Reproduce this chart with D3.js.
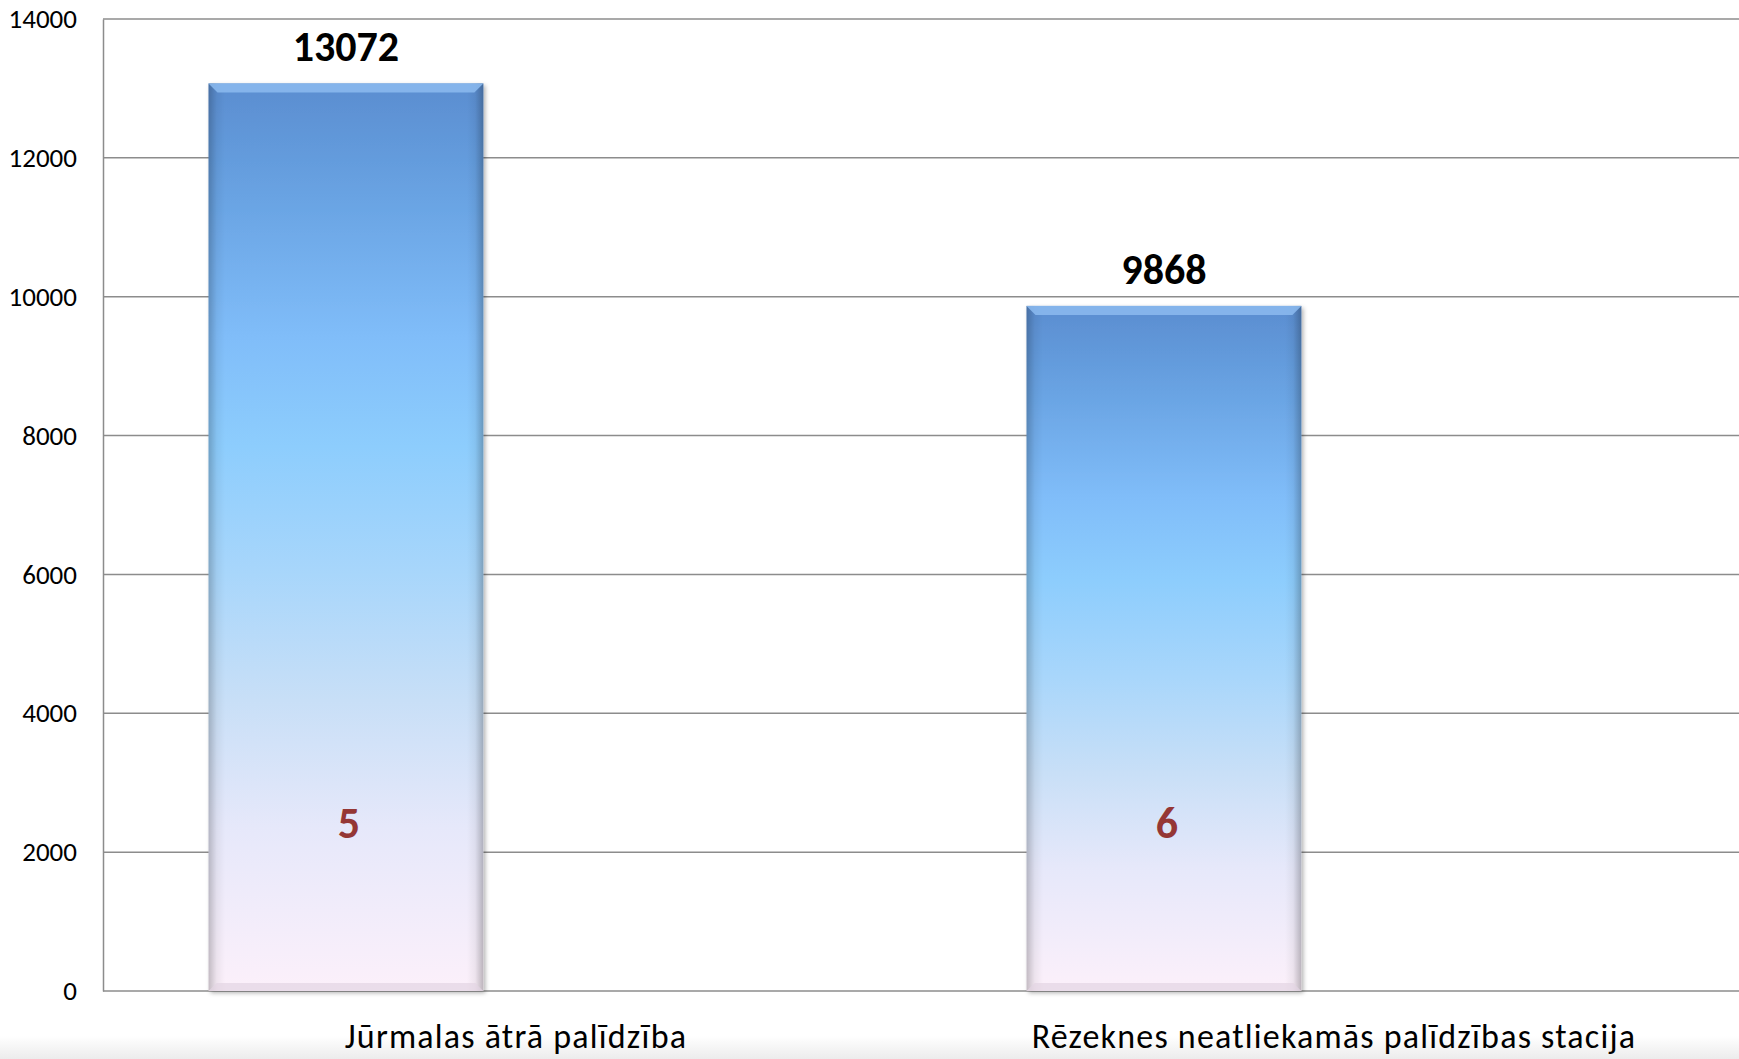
<!DOCTYPE html>
<html>
<head>
<meta charset="utf-8">
<script src="https://cdn.jsdelivr.net/npm/d3@7"></script>
<style>
  body { margin: 0; background: #fff; }
  svg { display: block; font-family: Carlito, Lato, "Open Sans", sans-serif; }
</style>
</head>
<body>
<div class="svg-container"></div>
<script>
// data
const categories = ['Jūrmalas ātrā palīdzība', 'Rēzeknes neatliekamās palīdzības stacija'];
const values = [13072, 9868];
const innerLabels = [5, 6];
const innerLabelLevel = 2200;
const yTicks = [0, 2000, 4000, 6000, 8000, 10000, 12000, 14000];

// sizes
const W = 1739, H = 1059;
const margin = { top: 19, right: 0, bottom: 68, left: 103 };
const width = W - margin.left - margin.right;
const height = H - margin.top - margin.bottom;

const svg = d3.select('.svg-container')
    .append('svg')
    .attr('width', W)
    .attr('height', H);

const defs = svg.append('defs');

// bar fill, dark blue top to pinkish white bottom
const grad = defs.append('linearGradient')
    .attr('id', 'barFill')
    .attr('x1', 0).attr('y1', 0).attr('x2', 0).attr('y2', 1);
[
    [0, '#5a8dd0'], [0.12, '#68a2e2'], [0.28, '#80bdf9'], [0.4, '#8dcdfd'],
    [0.54, '#a8d6fb'], [0.68, '#c8dff7'], [0.82, '#e6e8fa'], [1, '#fcf0fa']
].forEach(s => grad.append('stop').attr('offset', s[0]).attr('stop-color', s[1]));

// side shading for bevel look
const side = defs.append('linearGradient')
    .attr('id', 'sideShade')
    .attr('x1', 0).attr('y1', 0).attr('x2', 1).attr('y2', 0);
[
    [0, 'rgba(0,0,0,0.22)'], [0.03, 'rgba(0,0,0,0.05)'], [0.06, 'rgba(0,0,0,0)'],
    [0.94, 'rgba(0,0,0,0)'], [0.97, 'rgba(0,0,0,0.05)'], [1, 'rgba(0,0,0,0.25)']
].forEach(s => side.append('stop').attr('offset', s[0]).attr('stop-color', s[1]));

const shadow = defs.append('filter').attr('id', 'shadow')
    .attr('x', '-5%').attr('y', '-5%').attr('width', '115%').attr('height', '110%');
shadow.append('feDropShadow')
    .attr('dx', 2).attr('dy', 2).attr('stdDeviation', 2)
    .attr('flood-color', '#000').attr('flood-opacity', 0.3);

// faint page shade at bottom
const pageShade = defs.append('linearGradient')
    .attr('id', 'pageShade')
    .attr('x1', 0).attr('y1', 0).attr('x2', 0).attr('y2', 1);
pageShade.append('stop').attr('offset', 0).attr('stop-color', '#ffffff');
pageShade.append('stop').attr('offset', 1).attr('stop-color', '#ececec');
svg.append('rect')
    .attr('x', 0).attr('y', 1036).attr('width', W).attr('height', H - 1036)
    .attr('fill', 'url(#pageShade)');

const g = svg.append('g').attr('transform', `translate(${margin.left},${margin.top})`);

const x0 = d3.scaleBand()
    .domain(categories)
    .range([0, width])
    .padding(0);

const y = d3.scaleLinear()
    .domain([0, 14000])
    .range([height, 0]);

const barOffset = x0.bandwidth() * 0.129;
const barWidth = x0.bandwidth() * 0.336;

// gridlines
g.append('g')
    .selectAll('line')
    .data(yTicks)
    .enter()
    .append('line')
    .attr('x1', 0)
    .attr('x2', width)
    .attr('y1', d => y(d))
    .attr('y2', d => y(d))
    .attr('stroke', '#8c8c8c')
    .attr('stroke-width', 1.5);

// y axis
const yAxis = g.append('g')
    .call(d3.axisLeft(y).tickValues(yTicks).tickSize(0).tickPadding(26).tickFormat(d3.format('d')));
yAxis.select('.domain').attr('stroke', '#8c8c8c').attr('stroke-width', 1.5);
yAxis.selectAll('text')
    .attr('font-size', 27)
    .attr('fill', '#000')
    .style('font-family', 'Carlito, Lato, sans-serif');

// bars
const bars = g.append('g')
    .selectAll('g')
    .data(categories.map((c, i) => ({ name: c, value: values[i], inner: innerLabels[i] })))
    .enter()
    .append('g');

bars.append('rect')
    .attr('x', d => x0(d.name) + barOffset)
    .attr('y', d => y(d.value))
    .attr('width', barWidth)
    .attr('height', d => y(0) - y(d.value))
    .attr('fill', 'url(#barFill)')
    .attr('filter', 'url(#shadow)');

bars.append('rect')
    .attr('x', d => x0(d.name) + barOffset)
    .attr('y', d => y(d.value))
    .attr('width', barWidth)
    .attr('height', d => y(0) - y(d.value))
    .attr('fill', 'url(#sideShade)');

// top bevel highlight
bars.append('path')
    .attr('d', d => {
        const xl = x0(d.name) + barOffset, xr = xl + barWidth, yt = y(d.value);
        return `M${xl},${yt} L${xr},${yt} L${xr - 9},${yt + 9} L${xl + 9},${yt + 9} Z`;
    })
    .attr('fill', '#8cbbf0')
    .attr('opacity', 0.85);

// bottom bevel
bars.append('path')
    .attr('d', d => {
        const xl = x0(d.name) + barOffset, xr = xl + barWidth, yb = y(0);
        return `M${xl},${yb} L${xr},${yb} L${xr - 8},${yb - 8} L${xl + 8},${yb - 8} Z`;
    })
    .attr('fill', '#e2d4e2')
    .attr('opacity', 0.7);

// value labels
bars.append('text')
    .attr('x', d => x0(d.name) + barOffset + barWidth / 2)
    .attr('y', d => y(d.value) - 22)
    .attr('text-anchor', 'middle')
    .attr('font-size', 42)
    .attr('font-weight', 'bold')
    .attr('fill', '#000')
    .text(d => d.value);

// inner labels
bars.append('text')
    .attr('x', d => x0(d.name) + barOffset + barWidth / 2 + 3)
    .attr('y', y(innerLabelLevel))
    .attr('text-anchor', 'middle')
    .attr('font-size', 44)
    .attr('font-weight', 'bold')
    .attr('fill', '#953735')
    .text(d => d.inner);

// category labels
g.append('g')
    .selectAll('text')
    .data(categories)
    .enter()
    .append('text')
    .attr('x', d => x0(d) + x0.bandwidth() / 2 + 4)
    .attr('y', height + 57)
    .attr('text-anchor', 'middle')
    .attr('font-size', 34)
    .attr('letter-spacing', 1.2)
    .attr('fill', '#000')
    .text(d => d);
</script>
</body>
</html>
